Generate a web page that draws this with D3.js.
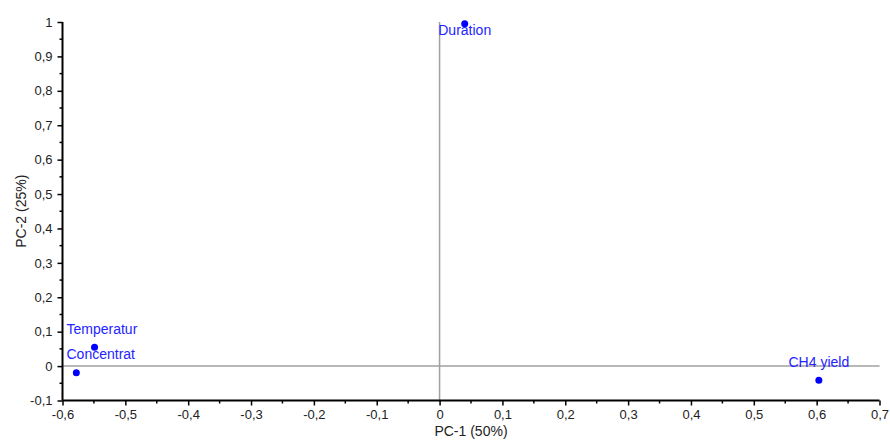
<!DOCTYPE html>
<html>
<head>
<meta charset="utf-8">
<script src="https://cdn.jsdelivr.net/npm/d3@7"></script>
<style>
  html, body { margin: 0; padding: 0; background: #fff; }
  svg { display: block; font-family: "Liberation Sans", Arial, sans-serif; }
</style>
</head>
<body>
<svg id="chart" width="890" height="441"></svg>
<script>
// ---------- data ----------
const variables = ["Duration", "Temperatur", "Concentrat", "CH4 yield"];
const pc1 = [0.04, -0.549, -0.578, 0.6035];
const pc2 = [0.995, 0.055, -0.019, -0.041];

const xDomain = [-0.6, 0.7];
const yDomain = [-0.1, 1];
const xTicks = d3.range(-6, 8).map(i => i / 10);
const yTicks = d3.range(-1, 11).map(i => i / 10);
const xTitle = "PC-1 (50%)";
const yTitle = "PC-2 (25%)";

// ---------- setup ----------
const svg = d3.select("#chart");
const mLeft = 62.5, mRight = 879.5, mTop = 22, mBottom = 400.5;

const x = d3.scaleLinear().domain(xDomain).range([mLeft, mRight]);
const y = d3.scaleLinear().domain(yDomain).range([mBottom, mTop]);

const locale = d3.formatLocale({ decimal: ",", thousands: ".", grouping: [3], currency: ["", ""], minus: "-" });
const fmt = locale.format("~g");

const pointColor = "#0000ff";
const labelColor = "#2424ff";

// zero reference lines
svg.append("line")
  .attr("x1", x(0)).attr("x2", x(0))
  .attr("y1", y(1)).attr("y2", mBottom)
  .attr("stroke", "#a0a0a0").attr("stroke-width", 1.5);
svg.append("line")
  .attr("x1", mLeft).attr("x2", mRight)
  .attr("y1", y(0)).attr("y2", y(0))
  .attr("stroke", "#a0a0a0").attr("stroke-width", 1.5);

// ---------- axes ----------
const xAxis = d3.axisBottom(x).tickValues(xTicks).tickFormat(fmt).tickSize(5).tickPadding(4);
const yAxis = d3.axisLeft(y).tickValues(yTicks).tickFormat(fmt).tickSize(5).tickPadding(5);

const gx = svg.append("g").attr("transform", `translate(0,${mBottom})`).call(xAxis);
const gy = svg.append("g").attr("transform", `translate(${mLeft},0)`).call(yAxis);

// minor ticks halfway between majors
const xMinor = xTicks.slice(0, -1).map(v => v + 0.05);
const yMinor = yTicks.slice(0, -1).map(v => v + 0.05);
gx.selectAll("line.minor").data(xMinor).join("line")
  .attr("class", "minor")
  .attr("x1", d => x(d)).attr("x2", d => x(d))
  .attr("y1", 0).attr("y2", 3);
gy.selectAll("line.minor").data(yMinor).join("line")
  .attr("class", "minor")
  .attr("y1", d => y(d)).attr("y2", d => y(d))
  .attr("x1", 0).attr("x2", -3);

for (const g of [gx, gy]) {
  g.select(".domain").attr("stroke", "#000").attr("stroke-width", 2);
  g.selectAll("line").attr("stroke", "#000").attr("stroke-width", 1.5);
  g.selectAll("text")
    .attr("fill", "#222")
    .style("font-size", "13px")
    .style("font-family", "'Liberation Sans', Arial, sans-serif");
}
gx.select(".domain").attr("d", `M${mLeft},0H${mRight}`);
gy.select(".domain").attr("d", `M0,${mTop}V${mBottom}`);

// axis titles
svg.append("text")
  .attr("x", (mLeft + mRight) / 2).attr("y", 436)
  .attr("text-anchor", "middle")
  .attr("fill", "#222").style("font-size", "14px")
  .text(xTitle);
svg.append("text")
  .attr("transform", `translate(26,${(mTop + mBottom) / 2}) rotate(-90)`)
  .attr("text-anchor", "middle")
  .attr("fill", "#222").style("font-size", "14px")
  .text(yTitle);

// ---------- points ----------
const data = variables.map((name, i) => ({ name, px: pc1[i], py: pc2[i] }));

svg.selectAll("circle.pt").data(data).join("circle")
  .attr("class", "pt")
  .attr("cx", d => x(d.px)).attr("cy", d => y(d.py))
  .attr("r", 3.5)
  .attr("fill", pointColor);

// labels: above the point, below when near the top; kept inside the plot
const labels = svg.selectAll("text.lbl").data(data).join("text")
  .attr("class", "lbl")
  .attr("fill", labelColor)
  .style("font-size", "14px")
  .text(d => d.name);

labels.each(function(d) {
  const w = this.getComputedTextLength();
  let lx = x(d.px) - w / 2;
  lx = Math.max(mLeft + 4, Math.min(mRight - w - 2, lx));
  const cy = y(d.py);
  const ly = cy - mTop < 20 ? cy + 11 : cy - 13.5;
  d3.select(this).attr("x", lx).attr("y", ly);
});
</script>
</body>
</html>
